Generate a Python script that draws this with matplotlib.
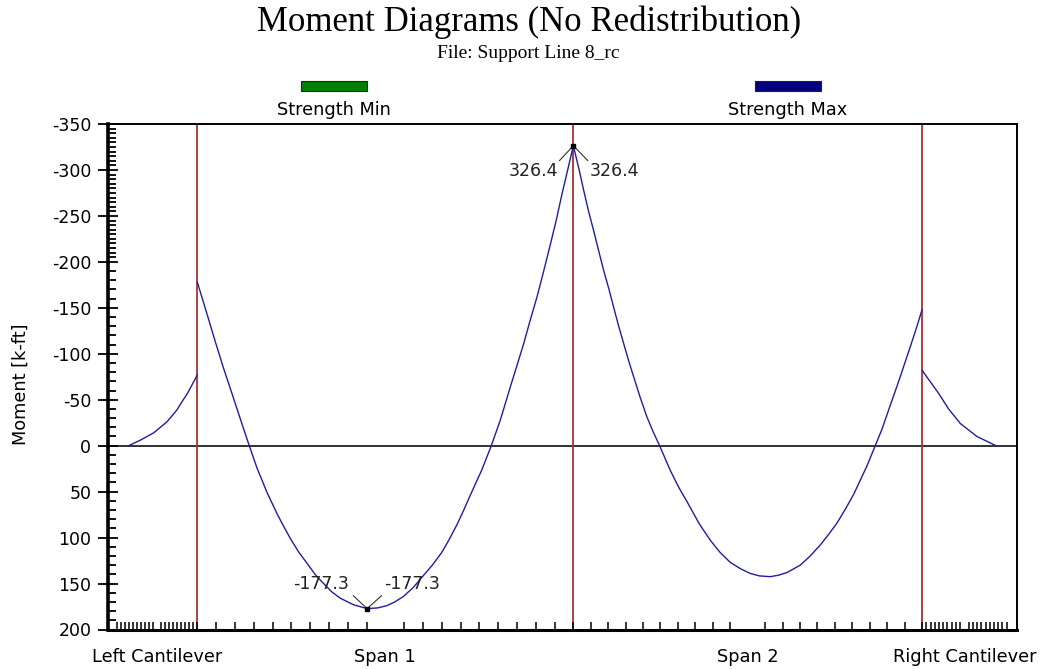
import matplotlib
matplotlib.use('Agg')
import matplotlib.pyplot as plt
from matplotlib.patches import Rectangle
import numpy as np

plt.rcParams['axes.unicode_minus'] = False
plt.rcParams['font.family'] = ['DejaVu Sans']

# distances along the support line [ft], moments [k-ft]
supports = [0.0, 20.0, 38.55]
x_left = [-3.65, -3.03, -2.32, -1.61, -1.08, -0.81, -0.52, 0.0]
m_left = [0, -6, -14, -26, -39, -48, -57, -77]
x_span1 = [0.0, 0.52, 0.96, 1.40, 1.84, 2.29, 2.73, 3.17, 3.71, 4.24, 4.6, 4.95,
           5.4, 5.84, 6.3, 6.72, 7.15, 7.61, 8.3, 9.03, 9.6, 10.09, 10.5, 10.97,
           11.5, 12.04, 12.5, 13.01, 13.4, 13.81, 14.15, 14.52, 14.85, 15.14,
           15.62, 16.12, 16.65, 17.0, 17.36, 17.7, 18.07, 18.4, 18.78, 19.1,
           19.40, 19.7, 20.0]
m_span1 = [-178, -143, -113, -84, -57, -29, -2, 24, 51, 74, 88, 101,
           116, 128, 141, 150, 159, 166, 173, 177.3, 176.5, 174, 170, 164,
           154, 141, 130, 116, 102, 86, 71, 54, 39, 26,
           1, -28, -64, -87, -111, -136, -162, -188, -219, -246,
           -274, -300, -326.4]
x_span2 = [20.0, 20.3, 20.55, 20.8, 21.08, 21.35, 21.61, 21.9, 22.14, 22.4,
           22.68, 22.95, 23.21, 23.55, 23.92, 24.25, 24.59, 25.16, 25.6, 26.05,
           26.7, 27.29, 27.8, 28.35, 28.9, 29.41, 29.9, 30.48, 30.9, 31.37,
           32.07, 32.6, 33.14, 33.6, 34.03, 34.5, 34.91, 35.3, 35.62, 36.06,
           36.4, 36.69, 37.05, 37.39, 37.65, 37.93, 38.25, 38.55]
m_span2 = [-326.4, -301, -278, -256, -234, -212, -191, -170, -151, -131,
           -111, -92, -75, -53, -31, -15, 0, 27, 45, 61,
           85, 103, 116, 127, 134, 139, 141.7, 142.5, 141, 138,
           130, 120, 108, 96, 84, 68, 53, 36, 22, 0,
           -17, -34, -55, -75, -91, -108, -128, -148]
x_right = [38.55, 39.43, 39.96, 40.59, 41.47, 42.48]
m_right = [-82, -57, -40, -24, -10, 0]

seg_labels = ['Left Cantilever', 'Span 1', 'Span 2', 'Right Cantilever']
seg_bounds = [(-4.25, 0.0), (0.0, 20.0), (20.0, 38.55), (38.55, 43.05)]

peak_x, peak_m = 20.0, -326.4
low_x, low_m = 9.03, 177.3

W, H = 1044, 669
fig = plt.figure(figsize=(W / 100, H / 100), dpi=100)
ax = fig.add_axes([108 / W, 1 - 629.5 / H, (1017 - 108) / W, (629.5 - 124) / H])

curve = '#1f1f9e'
ax.axhline(0, color='#222222', lw=1.3, zorder=1)
for s in supports:
    ax.axvline(s, color='#a83232', lw=1.3, zorder=1)
for xs, ms in [(x_left, m_left), (x_span1, m_span1), (x_span2, m_span2), (x_right, m_right)]:
    ax.plot(xs, ms, color=curve, lw=1.0, zorder=3)

ax.set_xlim(-4.75, 43.6)
ax.set_ylim(200, -350)

# y ticks
ax.set_yticks(np.arange(-350, 201, 50))
ymin = [v for v in range(-345, -200, 5) if v % 50] + [v for v in range(-190, 200, 10) if v % 50]
ax.set_yticks(ymin, minor=True)
ax.tick_params(axis='y', which='major', direction='inout', length=14, width=1.3,
               labelsize=12.5, pad=5)
ax.tick_params(axis='y', which='minor', direction='in', length=6, width=1.3)

# x ticks: segment labels + 20 divisions per segment
ax.set_xticks([(a + b) / 2 for a, b in seg_bounds])
ax.set_xticklabels(seg_labels)
xmin = np.unique(np.round(np.concatenate([np.linspace(a, b, 21) for a, b in seg_bounds]), 4))
ax.set_xticks(xmin, minor=True)
ax.tick_params(axis='x', which='major', length=0, labelsize=12.8, pad=13)
ax.tick_params(axis='x', which='minor', direction='in', length=6, width=1.1)

for side, lw in [('left', 2.6), ('bottom', 2.2), ('top', 1.4), ('right', 1.4)]:
    ax.spines[side].set_linewidth(lw)
    ax.spines[side].set_color('black')

# peak / low annotations
lead = dict(arrowstyle='-', color='#333333', lw=0.8, shrinkA=0, shrinkB=0)
for (px, pm, dy_lead, dy_txt, txt, dl, dr) in [
        (peak_x, peak_m, -10.8, -18.5, '326.4', -29, 29.5),
        (low_x, low_m, 9.4, 18, '-177.3', -33, 32.4)]:
    ax.plot([px], [pm], 's', color='black', ms=3, zorder=4)
    for sx in (-10, 10.5):
        ax.annotate('', xy=(px, pm), xytext=(sx, dy_lead), textcoords='offset points',
                    arrowprops=lead)
    for tx in (dl, dr):
        ax.annotate(txt, xy=(px, pm), xytext=(tx, dy_txt), textcoords='offset points',
                    ha='center', va='center', fontsize=12.5, color='#222222')

# titles
fig.text(529.5 / W, 1 - 22 / H, 'Moment Diagrams (No Redistribution)',
         family='Liberation Serif', fontsize=25, ha='center', va='center')
fig.text(528 / W, 1 - 53 / H, 'File: Support Line 8_rc',
         family='Liberation Serif', fontsize=14, ha='center', va='center')

# legend
for x0, col, lab in [(301, '#008000', 'Strength Min'), (755, '#000080', 'Strength Max')]:
    fig.patches.append(Rectangle((x0 / W, 1 - 91 / H), 66 / W, 10 / H,
                                 transform=fig.transFigure, facecolor=col,
                                 edgecolor='#222222', lw=0.8))
    fig.text((x0 + 33) / W, 1 - 110 / H, lab, fontsize=12.8, ha='center', va='center')

fig.text(21 / W, 1 - 384 / H, 'Moment [k-ft]', rotation=90, fontsize=12.8,
         ha='center', va='center')

fig.savefig('out.png', dpi=100)
